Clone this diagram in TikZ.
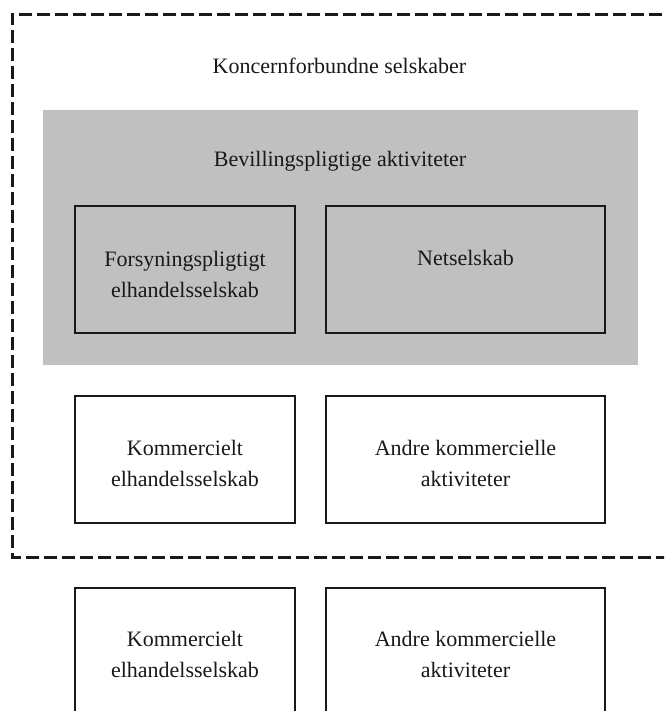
\documentclass[tikz,border=0pt]{standalone}
\usepackage{fontspec}
\setmainfont{Liberation Serif}
\definecolor{panelgray}{HTML}{C0C0C0}
\tikzset{
  txt/.style={font=\fontsize{22}{31}\selectfont, align=center, inner sep=0pt, text=black!90},
  orgbox/.style={draw=black!90, line width=1.6pt, minimum width=220pt, minimum height=127pt, inner sep=0pt},
  orgboxwide/.style={orgbox, minimum width=279pt},
  groupline/.style={draw=black!90, line width=3pt, dash pattern=on 13pt off 5pt},
}
\begin{document}
\begin{tikzpicture}[x=1pt,y=-1pt]
\useasboundingbox (0,0) rectangle (664,711);
\clip (0,0) rectangle (664,711);
% dashed group outline (right side runs off the picture)
\coordinate (gtr) at (680,14.5);
\coordinate (gtl) at (12,14.5);
\coordinate (gbl) at (12,557);
\coordinate (gbr) at (680,557);
\draw[groupline] (gtr) -- (gtl) -- (gbl) -- (gbr);
\node[txt] (title) at (339.5,66) {Koncernforbundne selskaber};
% gray panel
\node[fill=panelgray, minimum width=595pt, minimum height=255pt, inner sep=0pt] (panel) at (340.5,237.5) {};
\node[txt] (ptitle) at (340,161) {Bevillingspligtige aktiviteter};
% row 1
\node[orgbox] (b1) at (185,269.5) {};
\node[orgboxwide] (b2) at (465.5,269.5) {};
\node[txt] (t1) at (185,274) {Forsyningspligtigt\\elhandelsselskab};
\node[txt] (t2) at (465.5,258) {Netselskab};
% row 2
\node[orgbox] (b3) at (185,459.5) {};
\node[orgboxwide] (b4) at (465.5,459.5) {};
\node[txt] (t3) at (185,463) {Kommercielt\\elhandelsselskab};
\node[txt] (t4) at (465.5,463) {Andre kommercielle\\aktiviteter};
% row 3 (runs off the bottom)
\node[orgbox] (b5) at (185,651.5) {};
\node[orgboxwide] (b6) at (465.5,651.5) {};
\node[txt] (t5) at (185,654) {Kommercielt\\elhandelsselskab};
\node[txt] (t6) at (465.5,654) {Andre kommercielle\\aktiviteter};
\end{tikzpicture}
\end{document}
